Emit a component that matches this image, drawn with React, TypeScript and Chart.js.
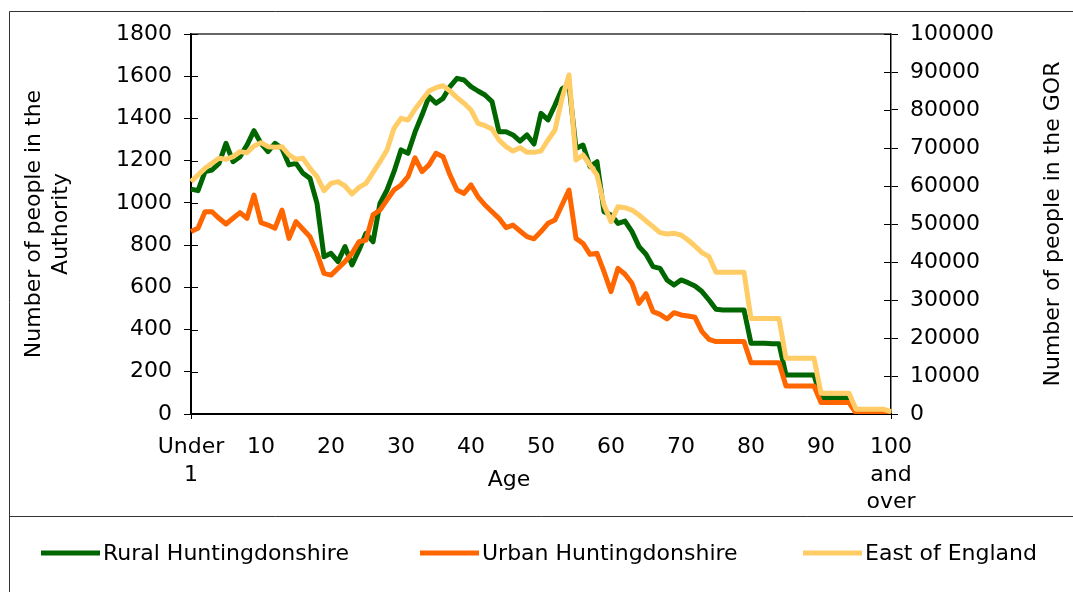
import React, { useEffect, useRef } from 'react';
import { Chart, registerables } from 'chart.js';

Chart.register(...registerables);

const FONT = "'DejaVu Sans', 'Liberation Sans', Arial, sans-serif";

const ageCategories: string[] = [
  'Under 1', '1', '2', '3', '4', '5', '6', '7', '8', '9',
  '10', '11', '12', '13', '14', '15', '16', '17', '18', '19',
  '20', '21', '22', '23', '24', '25', '26', '27', '28', '29',
  '30', '31', '32', '33', '34', '35', '36', '37', '38', '39',
  '40', '41', '42', '43', '44', '45', '46', '47', '48', '49',
  '50', '51', '52', '53', '54', '55', '56', '57', '58', '59',
  '60', '61', '62', '63', '64', '65', '66', '67', '68', '69',
  '70', '71', '72', '73', '74', '75', '76', '77', '78', '79',
  '80', '81', '82', '83', '84', '85', '86', '87', '88', '89',
  '90', '91', '92', '93', '94', '95', '96', '97', '98', '99',
  '100 and over',
];

const xTickIndices: number[] = [0, 10, 20, 30, 40, 50, 60, 70, 80, 90, 100];
const xTickText: (string | string[])[] = [
  ['Under', '1'], '10', '20', '30', '40', '50', '60', '70', '80', '90', ['100', 'and', 'over'],
];

const ruralHuntingdonshire: number[] = [
  1065, 1058, 1148, 1156, 1187, 1282, 1195, 1219, 1274, 1342,
  1282, 1243, 1282, 1258, 1180, 1187, 1140, 1116, 998, 745,
  761, 722, 793, 706, 777, 856, 816, 998, 1061, 1148,
  1251, 1235, 1335, 1416, 1503, 1472, 1495, 1551, 1590, 1582,
  1551, 1530, 1511, 1480, 1337, 1337, 1322, 1293, 1322, 1279,
  1424, 1393, 1464, 1540, 1560, 1258, 1274, 1172, 1195, 958,
  943, 903, 914, 864, 793, 757, 698, 690, 635, 611,
  635, 622, 606, 580, 540, 496, 493, 493, 493, 493,
  335, 335, 335, 333, 333, 185, 185, 185, 185, 185,
  76, 76, 76, 76, 76, 12, 12, 12, 12, 12,
  6,
];

const urbanHuntingdonshire: number[] = [
  864, 880, 958, 958, 927, 900, 927, 954, 927, 1037,
  906, 895, 880, 966, 832, 911, 875, 840, 761, 666,
  658, 690, 722, 761, 816, 824, 943, 966, 1014, 1061,
  1085, 1124, 1213, 1148, 1180, 1235, 1219, 1132, 1061, 1045,
  1085, 1029, 990, 958, 927, 883, 895, 867, 840, 830,
  864, 903, 919, 990, 1061, 832, 808, 756, 761, 674,
  580, 690, 662, 619, 524, 570, 485, 472, 450, 480,
  469, 464, 458, 390, 354, 343, 343, 343, 343, 343,
  243, 243, 243, 243, 243, 133, 133, 133, 133, 133,
  54, 54, 54, 54, 54, 5, 5, 5, 5, 5,
  3,
];

const eastOfEngland: number[] = [
  61140, 62895, 64650, 65970, 67280, 67020, 67720, 69040, 68770, 70530,
  71400, 70350, 70180, 70350, 68160, 67020, 67280, 64650, 62460, 58770,
  60700, 61140, 60000, 57900, 59650, 60700, 63510, 66400, 69470, 75180,
  77810, 77370, 80200, 82630, 85000, 85880, 86400, 85000, 83250, 81760,
  80000, 76490, 75880, 75000, 72100, 70350, 69210, 70090, 68860, 68860,
  69210, 72100, 74740, 83070, 89210, 66840, 68160, 65530, 62900, 55000,
  50610, 54560, 54300, 53680, 52370, 50800, 49300, 47720, 47370, 47540,
  47100, 45790, 44210, 42460, 41400, 37300, 37300, 37300, 37300, 37300,
  25100, 25100, 25100, 25100, 25100, 14650, 14650, 14650, 14650, 14650,
  5440, 5440, 5440, 5440, 5440, 1230, 1230, 1230, 1230, 1230,
  600,
];

const seriesNames: string[] = ['Rural Huntingdonshire', 'Urban Huntingdonshire', 'East of England'];
const seriesColors: string[] = ['#006600', '#FF6600', '#FFCC66'];

const leftTitle: string[] = ['Number of people in the', 'Authority'];
const rightTitle = 'Number of people in the GOR';
const xTitle = 'Age';

const decorPlugin = {
  id: 'decor',
  afterDraw(chart: any) {
    const ctx: CanvasRenderingContext2D = chart.ctx;
    const { left, right, top, bottom } = chart.chartArea;
    ctx.save();

    // outer frame and legend separator
    ctx.strokeStyle = '#333333';
    ctx.lineWidth = 1;
    ctx.beginPath();
    ctx.moveTo(9.5, 600);
    ctx.lineTo(9.5, 11.5);
    ctx.lineTo(1080, 11.5);
    ctx.stroke();
    ctx.beginPath();
    ctx.moveTo(9.5, 516.5);
    ctx.lineTo(1080, 516.5);
    ctx.stroke();

    // plot area top border
    ctx.strokeStyle = '#333333';
    ctx.lineWidth = 1.5;
    ctx.beginPath();
    ctx.moveTo(left, top);
    ctx.lineTo(right, top);
    ctx.stroke();

    // inner tick stubs
    ctx.strokeStyle = '#000';
    ctx.lineWidth = 1;
    const ys = chart.scales.y;
    ys.ticks.forEach((t: any) => {
      const py = Math.round(ys.getPixelForValue(t.value)) + 0.5;
      ctx.beginPath();
      ctx.moveTo(left, py);
      ctx.lineTo(left + 7, py);
      ctx.stroke();
    });
    const y1 = chart.scales.y1;
    y1.ticks.forEach((t: any) => {
      const py = Math.round(y1.getPixelForValue(t.value)) + 0.5;
      ctx.beginPath();
      ctx.moveTo(right - 7, py);
      ctx.lineTo(right, py);
      ctx.stroke();
    });

    // axis titles
    ctx.fillStyle = '#000';
    ctx.font = `22px ${FONT}`;
    ctx.textAlign = 'center';
    ctx.textBaseline = 'middle';
    const midY = (top + bottom) / 2;
    leftTitle.forEach((line, i) => {
      ctx.save();
      ctx.translate(34 + i * 27, midY);
      ctx.rotate(-Math.PI / 2);
      ctx.fillText(line, 0, 0);
      ctx.restore();
    });
    ctx.save();
    ctx.translate(1053, midY);
    ctx.rotate(-Math.PI / 2);
    ctx.fillText(rightTitle, 0, 0);
    ctx.restore();
    ctx.fillText(xTitle, 509, 480);

    // legend
    const legendLineX = [41, 420, 803];
    const legendY = 553;
    chart.data.datasets.forEach((ds: any, i: number) => {
      ctx.strokeStyle = ds.borderColor;
      ctx.lineWidth = 5;
      ctx.beginPath();
      ctx.moveTo(legendLineX[i], legendY);
      ctx.lineTo(legendLineX[i] + 59, legendY);
      ctx.stroke();
      ctx.fillStyle = '#000';
      ctx.textAlign = 'left';
      ctx.fillText(ds.label, legendLineX[i] + 62, legendY + 1);
    });

    ctx.restore();
  },
};

export default function App() {
  const canvasRef = useRef<HTMLCanvasElement | null>(null);

  useEffect(() => {
    if (!canvasRef.current) return;
    const tickFont = { family: FONT, size: 22, lineHeight: 1.25 };
    const chart = new Chart(canvasRef.current, {
      type: 'line',
      data: {
        labels: ageCategories,
        datasets: [
          {
            label: seriesNames[0],
            data: ruralHuntingdonshire,
            borderColor: seriesColors[0],
            backgroundColor: seriesColors[0],
            borderWidth: 5,
            pointRadius: 0,
            tension: 0,
            borderJoinStyle: 'round',
            yAxisID: 'y',
            order: 3,
          },
          {
            label: seriesNames[1],
            data: urbanHuntingdonshire,
            borderColor: seriesColors[1],
            backgroundColor: seriesColors[1],
            borderWidth: 5,
            pointRadius: 0,
            tension: 0,
            borderJoinStyle: 'round',
            yAxisID: 'y',
            order: 2,
          },
          {
            label: seriesNames[2],
            data: eastOfEngland,
            borderColor: seriesColors[2],
            backgroundColor: seriesColors[2],
            borderWidth: 5,
            pointRadius: 0,
            tension: 0,
            borderJoinStyle: 'round',
            yAxisID: 'y1',
            order: 1,
          },
        ],
      },
      options: {
        responsive: false,
        animation: false,
        devicePixelRatio: 1,
        layout: { padding: { top: 34, left: 0, right: 0, bottom: 75 } },
        plugins: {
          legend: { display: false },
          tooltip: { enabled: false },
        },
        scales: {
          x: {
            type: 'category',
            offset: false,
            grid: {
              display: true,
              drawOnChartArea: false,
              drawTicks: true,
              tickLength: 5,
              lineWidth: 1,
              color: (c: any) => (c.index % 10 === 0 ? '#000' : 'rgba(0,0,0,0)'),
            },
            border: { display: true, color: '#000', width: 2 },
            ticks: {
              autoSkip: false,
              maxRotation: 0,
              minRotation: 0,
              padding: 15,
              color: '#000',
              font: tickFont,
              callback: (_v: any, idx: number) => {
                const k = xTickIndices.indexOf(idx);
                return k >= 0 ? xTickText[k] : null;
              },
            },
            afterFit: (s: any) => {
              s.height = 103;
            },
          },
          y: {
            type: 'linear',
            position: 'left',
            min: 0,
            max: 1800,
            grid: { drawOnChartArea: false, drawTicks: true, tickLength: 7, color: '#000', lineWidth: 1 },
            border: { display: true, color: '#000', width: 2 },
            ticks: {
              stepSize: 200,
              padding: 12,
              color: '#000',
              font: tickFont,
              callback: (v: any) => String(v),
            },
            afterFit: (s: any) => {
              s.width = 191;
            },
          },
          y1: {
            type: 'linear',
            position: 'right',
            min: 0,
            max: 100000,
            grid: { drawOnChartArea: false, drawTicks: true, tickLength: 7, color: '#000', lineWidth: 1 },
            border: { display: true, color: '#000', width: 1.5 },
            ticks: {
              stepSize: 10000,
              padding: 12,
              color: '#000',
              font: tickFont,
              callback: (v: any) => String(v),
            },
            afterFit: (s: any) => {
              s.width = 182;
            },
          },
        },
      },
      plugins: [decorPlugin],
    } as any);
    return () => chart.destroy();
  }, []);

  return (
    <div style={{ position: 'fixed', left: 0, top: 0, width: 1073, height: 592, background: '#fff' }}>
      <canvas ref={canvasRef} width={1073} height={592} style={{ width: 1073, height: 592, display: 'block' }} />
    </div>
  );
}
